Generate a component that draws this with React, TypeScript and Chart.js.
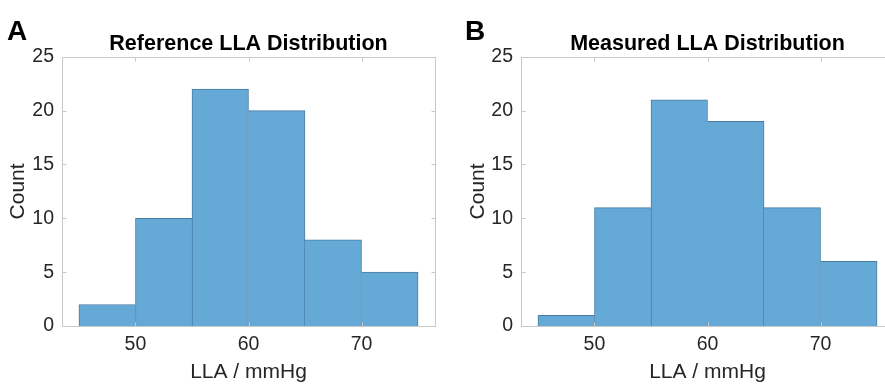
import React, { useEffect, useRef } from "react";
import { Chart, registerables } from "chart.js";

Chart.register(...registerables);

// ---- data ----
const binEdges = [45, 50, 55, 60, 65, 70, 75];
const countsA = [2, 10, 22, 20, 8, 5];
const countsB = [1, 11, 21, 19, 11, 6];
const xTicks = [50, 60, 70];
const yTicks = [0, 5, 10, 15, 20, 25];
const xLimits = [43.5, 76.5];
const yLimits = [0, 25];
const titleA = "Reference LLA Distribution";
const titleB = "Measured LLA Distribution";
const xLabel = "LLA / mmHg";
const yLabel = "Count";

// ---- style ----
const FONT = "'Liberation Sans', Arial, Helvetica, sans-serif";
const FILL = "rgb(101,169,215)";
const EDGE = "rgb(72,124,162)";
const AXIS = "#c8c8c8";
const TEXT = "#262626";

type Panel = {
  letter: string;
  title: string;
  counts: number[];
  left: number;
  width: number;
  yAxisWidth: number;
  rightPad: number;
  countPad: number;
  letterX: number;
};

const panels: Panel[] = [
  { letter: "A", title: titleA, counts: countsA, left: 0, width: 440, yAxisWidth: 62, rightPad: 5, countPad: 6, letterX: 7 },
  { letter: "B", title: titleB, counts: countsB, left: 440, width: 460, yAxisWidth: 81, rightPad: 6, countPad: 26, letterX: 25 },
];

function edgeWidths(counts: number[], i: number) {
  const n = counts.length;
  const left = i === 0 ? 1 : counts[i] >= counts[i - 1] ? 1 : 0;
  const right = i === n - 1 ? 1 : counts[i] > counts[i + 1] ? 1 : 0;
  return { top: 1, left, right, bottom: 0 };
}

function makeChart(canvas: HTMLCanvasElement, p: Panel) {
  const framePlugin = {
    id: "frame",
    afterDraw(chart: any) {
      const ctx = chart.ctx;
      const a = chart.chartArea;
      const xs = chart.scales.x;
      const ys = chart.scales.y;
      const L = Math.round(a.left) + 0.5;
      const R = Math.round(a.right) + 0.5;
      const T = Math.round(a.top) + 0.5;
      const B = Math.round(a.bottom) + 0.5;
      const tl = 4;
      ctx.save();
      ctx.strokeStyle = AXIS;
      ctx.lineWidth = 1;
      ctx.beginPath();
      ctx.rect(L, T, R - L, B - T);
      for (const v of xTicks) {
        const x = Math.round(xs.getPixelForValue(v)) + 0.5;
        ctx.moveTo(x, B);
        ctx.lineTo(x, B - tl);
        ctx.moveTo(x, T);
        ctx.lineTo(x, T + tl);
      }
      for (const v of yTicks) {
        const y = Math.round(ys.getPixelForValue(v)) + 0.5;
        ctx.moveTo(L, y);
        ctx.lineTo(L + tl, y);
        ctx.moveTo(R, y);
        ctx.lineTo(R - tl, y);
      }
      ctx.stroke();
      ctx.fillStyle = "#000";
      ctx.font = `bold 28px ${FONT}`;
      ctx.textBaseline = "alphabetic";
      ctx.textAlign = "left";
      ctx.fillText(p.letter, p.letterX, 40);
      ctx.restore();
    },
  };

  return new Chart(canvas, {
    type: "bar",
    data: {
      datasets: [
        {
          data: p.counts.map((c, i) => ({ x: (binEdges[i] + binEdges[i + 1]) / 2, y: c })),
          backgroundColor: FILL,
          borderColor: EDGE,
          borderWidth: (ctx: any) => edgeWidths(p.counts, ctx.dataIndex),
          barPercentage: 1,
          categoryPercentage: 1,
        },
      ],
    },
    options: {
      animation: false,
      responsive: false,
      devicePixelRatio: 1,
      layout: { padding: { left: 0, right: p.rightPad, top: 0, bottom: 0 } },
      plugins: {
        legend: { display: false },
        tooltip: { enabled: false },
        title: {
          display: true,
          text: p.title,
          fullSize: false,
          color: "#000",
          font: { family: FONT, size: 21.5, weight: "bold" },
          padding: { top: 31, bottom: 0 },
        },
      },
      scales: {
        x: {
          type: "linear",
          min: xLimits[0],
          max: xLimits[1],
          offset: false,
          grid: { display: false, drawTicks: false },
          border: { display: false },
          afterBuildTicks: (s: any) => {
            s.ticks = xTicks.map((v) => ({ value: v }));
          },
          afterFit: (s: any) => {
            s.height = 59;
          },
          ticks: {
            color: TEXT,
            font: { family: FONT, size: 19.5 },
            padding: 7,
            maxRotation: 0,
          },
          title: {
            display: true,
            text: xLabel,
            color: TEXT,
            font: { family: FONT, size: 21 },
            padding: { top: 0, bottom: 0 },
          },
        },
        y: {
          type: "linear",
          min: yLimits[0],
          max: yLimits[1],
          grid: { display: false, drawTicks: false },
          border: { display: false },
          afterBuildTicks: (s: any) => {
            s.ticks = yTicks.map((v) => ({ value: v }));
          },
          afterFit: (s: any) => {
            s.width = p.yAxisWidth;
          },
          ticks: {
            color: TEXT,
            font: { family: FONT, size: 19.5 },
            padding: 8,
          },
          title: {
            display: true,
            text: yLabel,
            color: TEXT,
            font: { family: FONT, size: 21 },
            padding: { top: p.countPad, bottom: 0 },
          },
        },
      },
    },
    plugins: [framePlugin],
  } as any);
}

function PanelChart({ p }: { p: Panel }) {
  const ref = useRef<HTMLCanvasElement | null>(null);
  useEffect(() => {
    if (!ref.current) return;
    const chart = makeChart(ref.current, p);
    return () => chart.destroy();
  }, [p]);
  return (
    <canvas
      ref={ref}
      width={p.width}
      height={385}
      style={{ position: "absolute", left: p.left, top: 0, width: p.width, height: 385, display: "block" }}
    />
  );
}

export default function App() {
  return (
    <div
      style={{
        position: "fixed",
        left: 0,
        top: 0,
        width: 885,
        height: 385,
        overflow: "hidden",
        background: "#fff",
      }}
    >
      {panels.map((p) => (
        <PanelChart key={p.letter} p={p} />
      ))}
    </div>
  );
}
